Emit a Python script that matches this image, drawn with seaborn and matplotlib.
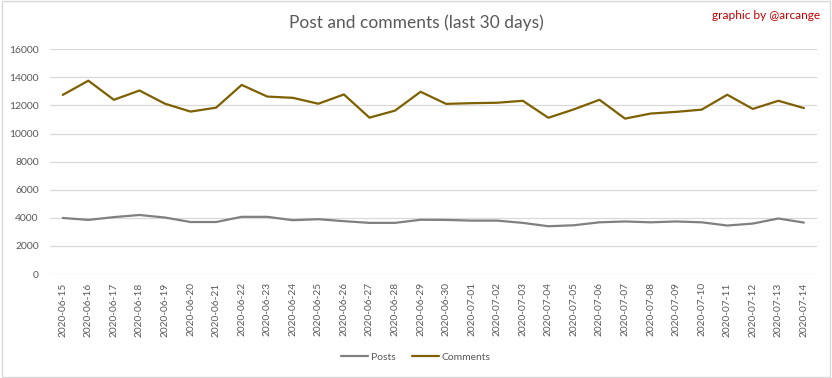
import matplotlib
matplotlib.use('Agg')
import matplotlib.pyplot as plt
import numpy as np
import pandas as pd
import seaborn as sns
from matplotlib.patches import Rectangle

# values
days = ['2020-06-15', '2020-06-16', '2020-06-17', '2020-06-18', '2020-06-19', '2020-06-20',
        '2020-06-21', '2020-06-22', '2020-06-23', '2020-06-24', '2020-06-25', '2020-06-26',
        '2020-06-27', '2020-06-28', '2020-06-29', '2020-06-30', '2020-07-01', '2020-07-02',
        '2020-07-03', '2020-07-04', '2020-07-05', '2020-07-06', '2020-07-07', '2020-07-08',
        '2020-07-09', '2020-07-10', '2020-07-11', '2020-07-12', '2020-07-13', '2020-07-14']
posts = [3990, 3850, 4050, 4200, 4020, 3700, 3700, 4070, 4070, 3830, 3900, 3760, 3640, 3640, 3860,
         3850, 3800, 3800, 3640, 3400, 3470, 3680, 3740, 3680, 3740, 3680, 3450, 3590, 3950, 3660]
comments = [12750, 13760, 12400, 13060, 12120, 11560, 11840, 13460, 12630, 12540, 12120, 12780,
            11130, 11630, 12970, 12110, 12160, 12190, 12330, 11120, 11720, 12400, 11060, 11420,
            11540, 11700, 12760, 11750, 12330, 11810]
yticks = [0, 2000, 4000, 6000, 8000, 10000, 12000, 14000, 16000]

frame = pd.DataFrame({'day': days * 2,
                      'value': posts + comments,
                      'series': ['Posts'] * len(days) + ['Comments'] * len(days)})

sns.set_style('white')
plt.rcParams['font.family'] = ['Lato', 'DejaVu Sans']

grey = '#595959'
fig = plt.figure(figsize=(8.32, 3.78), dpi=100)
ax = fig.add_axes([0.0601, 0.2751, 0.9215, 0.5947])

sns.lineplot(data=frame, x='day', y='value', hue='series', sort=False,
             palette={'Posts': '#808080', 'Comments': '#7f6000'}, linewidth=1.6, ax=ax)

ax.set_xlim(-0.5, len(days) - 0.5)
ax.set_ylim(0, 16000)
ax.set_yticks(yticks)
ax.set_yticklabels([str(v) for v in yticks])
ax.yaxis.grid(True, color='#d9d9d9', linewidth=0.9)
ax.set_axisbelow(True)
for s in ax.spines.values():
    s.set_visible(False)
ax.tick_params(axis='y', length=0, pad=8, labelsize=7.5, labelcolor=grey)
ax.tick_params(axis='x', length=0, pad=6, labelsize=7.3, labelcolor=grey, rotation=90)
ax.set_xlabel('')
ax.set_ylabel('')

handles, labels = ax.get_legend_handles_labels()
ax.get_legend().remove()
fig.legend(handles, labels, loc='center', bbox_to_anchor=(0.5, 0.055), ncol=2, frameon=False,
           fontsize=7.5, labelcolor=grey, handlelength=2.6, handletextpad=0.3, columnspacing=1.5)

fig.text(0.5, 0.94, 'Post and comments (last 30 days)', ha='center', va='center',
         fontsize=12.5, color=grey)
fig.text(0.986, 0.96, 'graphic by @arcange', ha='right', va='center', fontsize=8.6, color='#c00000')

fig.patches.append(Rectangle((0.002, 0.003), 0.996, 0.994, transform=fig.transFigure,
                             fill=False, edgecolor='#d9d9d9', linewidth=1))

fig.savefig('out.png', dpi=100)
